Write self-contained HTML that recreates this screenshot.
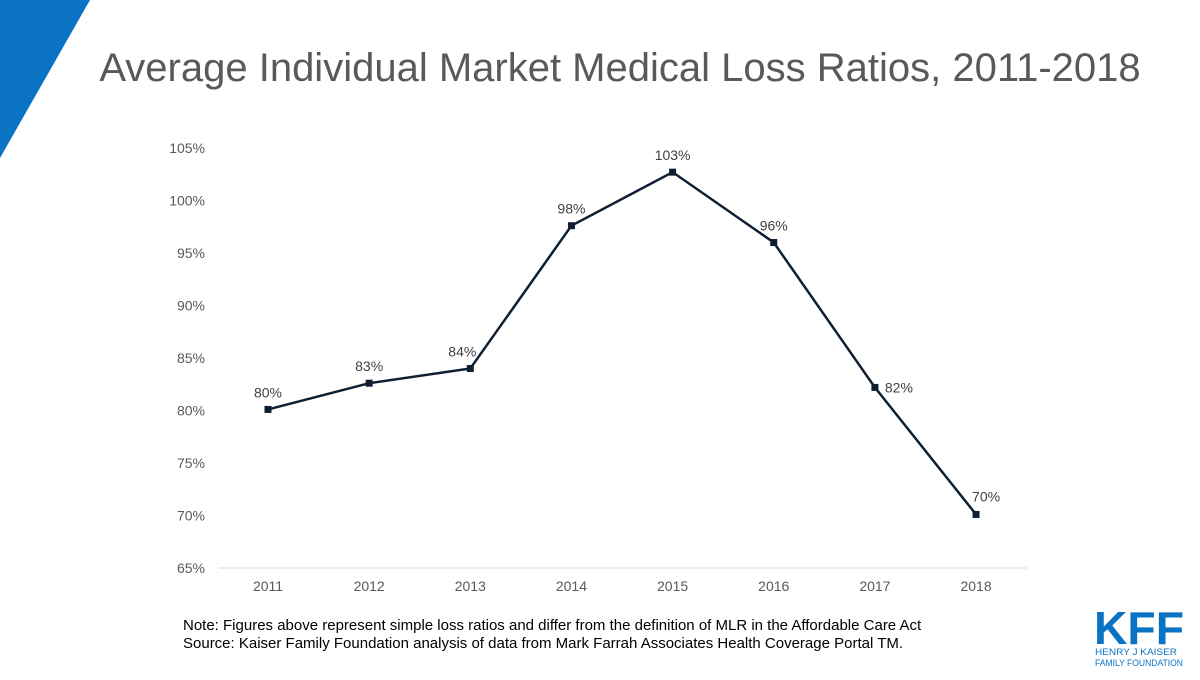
<!DOCTYPE html>
<html><head><meta charset="utf-8"><style>
body{margin:0;width:1200px;height:675px;background:#fff;overflow:hidden;font-family:"Liberation Sans",sans-serif;}
</style></head><body>
<svg width="1200" height="675">
<polygon points="0,0 90,0 0,158" fill="#0b73c4"/>
<text x="620" y="81" text-anchor="middle" font-size="40" fill="#595959">Average Individual Market Medical Loss Ratios, 2011-2018</text>
<g id="axes"></g>
<g id="series"></g>
<text x="183" y="630" font-size="15" fill="#000">Note: Figures above represent simple loss ratios and differ from the definition of MLR in the Affordable Care Act</text>
<text x="183" y="648" font-size="15" fill="#000">Source: Kaiser Family Foundation analysis of data from Mark Farrah Associates Health Coverage Portal TM.</text>
<g>
<text x="1094" y="644" font-size="46" font-weight="bold" fill="#0b73c4" textLength="90" lengthAdjust="spacingAndGlyphs">KFF</text>
<text x="1095" y="655" font-size="9" fill="#0b73c4" textLength="82" lengthAdjust="spacingAndGlyphs">HENRY J KAISER</text>
<text x="1095" y="666" font-size="9" fill="#0b73c4" textLength="88" lengthAdjust="spacingAndGlyphs">FAMILY FOUNDATION</text>
</g>
</svg>
<script>
const years=["2011","2012","2013","2014","2015","2016","2017","2018"];
const values=[80.1,82.6,84.0,97.6,102.7,96.0,82.2,70.1];
const labels=["80%","83%","84%","98%","103%","96%","82%","70%"];
const yTicks=[65,70,75,80,85,90,95,100,105];
const NS="http://www.w3.org/2000/svg";
const x=i=>268+i*101.15;
const y=v=>568-(v-65)*10.5;
function mk(t,a,p){const e=document.createElementNS(NS,t);for(const k in a)e.setAttribute(k,a[k]);p.appendChild(e);return e;}
const ax=document.getElementById('axes'),se=document.getElementById('series');
const base=mk('line',{x1:218,x2:1027,y1:568,y2:568,stroke:'#d9d9d9','stroke-width':1},ax);


yTicks.forEach(t=>{const e=mk('text',{x:205,y:y(t)+5,'text-anchor':'end','font-size':14,fill:'#595959'},ax);e.textContent=t+'%';

});
years.forEach((yr,i)=>{const e=mk('text',{x:x(i),y:591,'text-anchor':'middle','font-size':14,fill:'#595959'},ax);e.textContent=yr;

});
const pl=mk('polyline',{points:values.map((v,i)=>x(i)+','+y(v)).join(' '),fill:'none',stroke:'#0f1f33','stroke-width':2.5},se);


values.forEach((v,i)=>{const r=mk('rect',{x:x(i)-3.5,y:y(v)-3.5,width:7,height:7,fill:'#0f1f33'},se);


let lx=x(i),ly=y(v)-12,anc='middle';
if(i==2){lx=x(i)-8;}
if(i==6){lx=x(i)+10;ly=y(v)+5;anc='start';}
if(i==7){ly=y(v)-13;lx=x(i)+10;}
const t=mk('text',{x:lx,y:ly,'text-anchor':anc,'font-size':14,fill:'#404040'},se);t.textContent=labels[i];

});
</script>
</body></html>
